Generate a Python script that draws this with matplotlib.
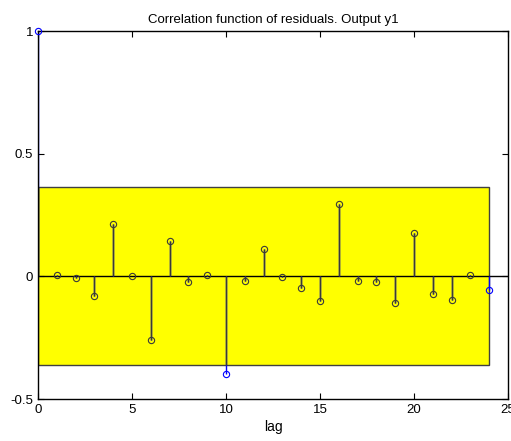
import numpy as np
import matplotlib.pyplot as plt
from matplotlib.patches import Rectangle

plt.rcParams['font.family'] = ['Liberation Sans', 'DejaVu Sans']

lags = np.arange(25)
corr = np.array([1.0, 0.004, -0.008, -0.08, 0.212, 0.0, -0.261, 0.145, -0.022,
                 0.004, -0.40, -0.018, 0.11, -0.004, -0.048, -0.10, 0.296,
                 -0.018, -0.022, -0.11, 0.177, -0.071, -0.098, 0.004, -0.057])
conf = 0.363  # confidence band half-width

fig = plt.figure(figsize=(5.11, 4.41), dpi=100)
ax = fig.add_axes([38 / 511, 42 / 441, 470 / 511, 368 / 441])

band = Rectangle((0, -conf), 24, 2 * conf, facecolor='#ffff00',
                 edgecolor='#404040', linewidth=1.0, zorder=1)
ax.add_patch(band)
ax.axhline(0, color='black', linewidth=1.0, zorder=2)

# blue stems, darker where they sit on the yellow band
ax.vlines(lags, 0, corr, color='#0000ff', linewidth=1.0, zorder=3)
ax.vlines(lags[:24], 0, np.clip(corr[:24], -conf, conf), color='#3a3a3a',
          linewidth=1.0, zorder=4)

inside = (np.abs(corr) < conf) & (lags < 24)
ax.plot(lags[~inside], corr[~inside], 'o', mfc='none', mec='#0000ff', ms=4.5,
        mew=0.8, zorder=7, clip_on=False)
ax.plot(lags[inside], corr[inside], 'o', mfc='none', mec='#3a3a3a', ms=4.5,
        mew=0.8, zorder=7)

ax.set_xlim(0, 25)
ax.set_ylim(-0.5, 1)
ax.set_xticks([0, 5, 10, 15, 20, 25])
ax.set_yticks([-0.5, 0, 0.5, 1])
ax.set_yticklabels(['-0.5', '0', '0.5', '1'])
ax.tick_params(direction='in', top=True, right=True, labelsize=9.5, length=4)
ax.set_xlabel('lag', fontsize=10, labelpad=3)
ax.set_title('Correlation function of residuals. Output y1', fontsize=9.5, pad=6)
for s in ax.spines.values():
    s.set_linewidth(1.0)
    s.set_zorder(5)

fig.savefig('out.png', dpi=100)
